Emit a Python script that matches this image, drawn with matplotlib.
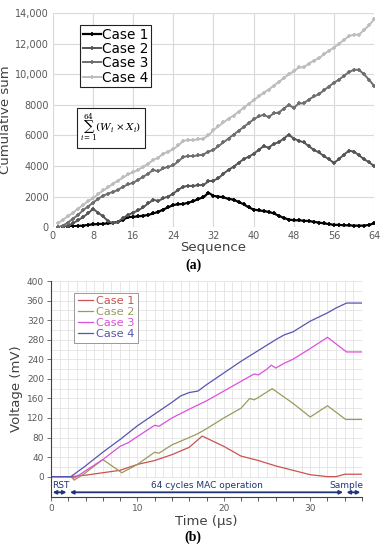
import numpy as np
import matplotlib
matplotlib.use("Agg")
from matplotlib import pyplot as plt

# ---- (a) cumulative sum data ----
seq = np.arange(1, 65)
case1_a = [0, 0, 20, 50, 80, 100, 150, 180, 200, 220, 250, 280, 350, 500, 650, 680,
           700, 750, 800, 900, 1000, 1150, 1300, 1450, 1500, 1520, 1600, 1700, 1850, 1950, 2250, 2050,
           2000, 1950, 1850, 1800, 1650, 1500, 1300, 1150, 1100, 1050, 1000, 900, 750, 600, 500, 450,
           450, 420, 400, 350, 300, 250, 200, 150, 150, 120, 120, 100, 100, 100, 150, 250]
case2_a = [0, 0, 100, 250, 450, 650, 900, 1200, 950, 700, 400, 250, 350, 600, 800, 950,
           1100, 1300, 1550, 1800, 1700, 1900, 2000, 2200, 2450, 2650, 2700, 2700, 2750, 2750, 3000, 3050,
           3200, 3500, 3750, 3950, 4200, 4450, 4600, 4800, 5050, 5300, 5200, 5450, 5550, 5800, 6050, 5800,
           5650, 5550, 5300, 5050, 4900, 4650, 4450, 4200, 4450, 4750, 5000, 4950, 4700, 4450, 4250, 4000]
case3_a = [0, 100, 300, 550, 800, 1100, 1350, 1600, 1850, 2050, 2200, 2300, 2450, 2650, 2800, 2900,
           3100, 3300, 3500, 3750, 3650, 3850, 3950, 4050, 4300, 4600, 4650, 4650, 4700, 4750, 4950, 5050,
           5300, 5550, 5800, 6050, 6300, 6550, 6800, 7050, 7250, 7350, 7200, 7450, 7500, 7750, 8000, 7800,
           8100, 8100, 8350, 8550, 8700, 8950, 9200, 9450, 9650, 9900, 10150, 10300, 10300, 10000, 9650, 9250]
case4_a = [250, 500, 700, 950, 1200, 1450, 1700, 1900, 2150, 2400, 2600, 2850, 3050, 3250, 3450, 3600,
           3750, 3950, 4150, 4400, 4550, 4800, 4950, 5100, 5350, 5650, 5700, 5700, 5750, 5800, 6000, 6350,
           6600, 6850, 7100, 7300, 7550, 7800, 8050, 8300, 8550, 8800, 9000, 9250, 9500, 9750, 10000, 10200,
           10450, 10450, 10700, 10900, 11050, 11300, 11550, 11750, 12000, 12250, 12500, 12600, 12600, 12900, 13200, 13600]
ytick_a = [0, 2000, 4000, 6000, 8000, 10000, 12000, 14000]
ytick_a_labels = ["0", "2000", "4000", "6000", "8000", "10,000", "12,000", "14,000"]

# ---- (b) voltage waveforms (time in us, mV) ----
t1 = [0, 2.3, 4, 6, 8, 10, 12, 14, 16, 17.5, 20, 22, 24, 26, 28, 30, 32, 33, 34, 36]
v1 = [0, 0, 3, 8, 13, 25, 33, 45, 60, 83, 62, 42, 33, 22, 13, 4, 0, 0, 5, 5]
t2 = [0, 2.3, 2.7, 4, 6, 8.2, 10, 12, 12.5, 14, 16, 17, 18, 20, 22, 23, 23.5, 24, 25.6, 28, 30, 32, 34.1, 36]
v2 = [0, 0, -7, 8, 35, 8, 25, 50, 48, 65, 80, 88, 98, 120, 140, 160, 157, 162, 180, 150, 122, 145, 117, 117]
t3 = [0, 2.3, 2.7, 4, 6, 8, 9, 10, 12, 12.5, 14, 16, 18, 20, 22, 23.5, 24, 25, 25.5, 26, 27, 28, 30, 32, 34.2, 36]
v3 = [0, 0, -3, 12, 35, 62, 70, 82, 105, 103, 120, 138, 155, 175, 195, 210, 208, 220, 228, 222, 232, 240, 262, 285, 255, 255]
t4 = [0, 2.3, 4, 6, 8, 10, 12, 14, 15, 16, 17, 18, 20, 22, 24, 26, 27, 28, 30, 32, 33, 34.2, 36]
v4 = [0, 0, 22, 50, 76, 104, 128, 152, 165, 172, 175, 188, 212, 236, 258, 280, 290, 296, 318, 335, 345, 355, 355]

fig = plt.figure(figsize=(3.86, 5.5), dpi=100)
tick_col = "#595959"

# ---------------- (a) ----------------
ax = fig.add_axes([0.137, 0.587, 0.832, 0.389])
styles = [("Case 1", case1_a, "#000000", 1.6),
          ("Case 2", case2_a, "#555555", 1.4),
          ("Case 3", case3_a, "#6e6e6e", 1.4),
          ("Case 4", case4_a, "#bdbdbd", 1.4)]
for name, vals, col, lw in styles:
    ax.plot(seq, vals, color=col, lw=lw, marker="+", ms=3.5, mew=1.2, label=name)
ax.set_xlim(0, 64)
ax.set_ylim(0, 14000)
ax.set_xticks(range(0, 65, 8))
ax.set_yticks(ytick_a)
ax.set_yticklabels(ytick_a_labels)
ax.grid(True, color="#d9d9d9", lw=0.8)
ax.set_axisbelow(True)
for s in ax.spines.values():
    s.set_visible(False)
ax.tick_params(length=0, labelsize=7, colors=tick_col, pad=3)
ax.set_xlabel("Sequence", fontsize=9.5, color="#404040", labelpad=0)
ax.set_ylabel("Cumulative sum", fontsize=9.5, color="#404040", labelpad=2)
leg = ax.legend(loc="upper left", bbox_to_anchor=(0.085, 0.945), fontsize=9.8,
                handlelength=1.3, handletextpad=0.1, borderpad=0.2, labelspacing=0.02,
                fancybox=False, framealpha=1, edgecolor="#222222", borderaxespad=0)
leg.get_frame().set_linewidth(0.8)
ax.text(0.085, 0.465, r"$\sum_{i=1}^{64}(W_i\times X_i)$", transform=ax.transAxes,
        fontsize=7.5, family="serif", math_fontfamily="dejavuserif", va="center",
        bbox=dict(boxstyle="square,pad=0.35", fc="white", ec="#222222", lw=0.8))
fig.text(0.5, 0.517, "(a)", ha="center", va="center", fontsize=10, fontweight="bold",
         family="Liberation Serif")

# ---------------- (b) ----------------
bx = fig.add_axes([0.132, 0.096, 0.806, 0.393])
bcols = ["#c8534f", "#9b9a5c", "#dd4fdd", "#5555b0"]
for name, tt, vv, col in [("Case 1", t1, v1, bcols[0]), ("Case 2", t2, v2, bcols[1]),
                          ("Case 3", t3, v3, bcols[2]), ("Case 4", t4, v4, bcols[3])]:
    bx.plot(tt, vv, color=col, lw=0.9, label=name)
bx.set_xlim(0, 36)
bx.set_ylim(-42, 400)
bx.set_yticks(range(0, 401, 40))
bx.set_xticks([0, 10, 20, 30])
bx.set_xticks(np.arange(0, 37, 2), minor=True)
for gx in np.arange(1, 36, 1):
    bx.axvline(gx, ymin=42 / 442, color="#e3e3e3", lw=0.6, zorder=0)
for gy in range(20, 401, 20):
    bx.axhline(gy, color="#e3e3e3", lw=0.6, zorder=0)
bx.axhline(0, color="#e3e3e3", lw=0.6, zorder=0)
bx.spines["top"].set_visible(False)
bx.spines["right"].set_visible(False)
bx.spines["left"].set_color("#404040")
bx.spines["bottom"].set_color("#404040")
bx.tick_params(axis="both", labelsize=6.5, colors=tick_col, length=3, width=0.6, pad=2)
bx.tick_params(axis="x", which="minor", length=3, width=0.6, colors="#404040")
bx.set_xlabel("Time (\u03bcs)", fontsize=9.5, color="#404040", labelpad=1)
bx.set_ylabel("Voltage (mV)", fontsize=9.5, color="#404040", labelpad=3)
leg2 = bx.legend(loc="upper left", bbox_to_anchor=(0.075, 0.945), fontsize=8.2,
                 handlelength=1.3, handletextpad=0.3, borderpad=0.3, labelspacing=0.08,
                 fancybox=False, framealpha=1, edgecolor="#888888", borderaxespad=0)
leg2.get_frame().set_linewidth(0.6)
for txt, col in zip(leg2.get_texts(), bcols):
    txt.set_color(col)

navy = "#1f3575"
arr = dict(arrowstyle="<|-|>", color=navy, lw=1.3, mutation_scale=5, shrinkA=0, shrinkB=0)
for x0, x1 in [(0.2, 1.8), (2.2, 33.8), (34.2, 35.8)]:
    bx.annotate("", xy=(x0, -32), xytext=(x1, -32), arrowprops=arr)
bx.text(0.1, -18, "RST", color=navy, fontsize=6.5, ha="left", va="center")
bx.text(18, -18, "64 cycles MAC operation", color=navy, fontsize=6.5, ha="center", va="center")
bx.text(36.2, -18, "Sample", color=navy, fontsize=6.5, ha="right", va="center")
fig.text(0.5, 0.024, "(b)", ha="center", va="center", fontsize=10, fontweight="bold",
         family="Liberation Serif")

fig.savefig("out.png", dpi=100)
